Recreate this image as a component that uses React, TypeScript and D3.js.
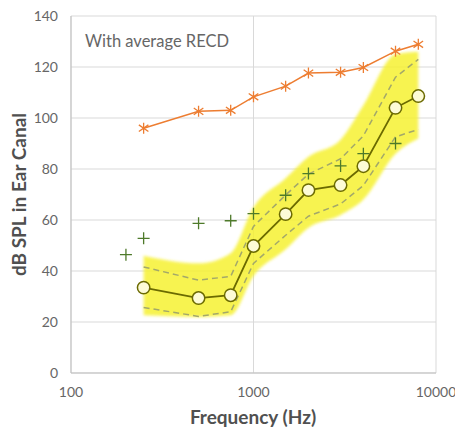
import React from "react";
import * as d3 from "d3";

const freqs = [250, 500, 750, 1000, 1500, 2000, 3000, 4000, 6000, 8000];
const withRecd = [96, 102.6, 103, 108.3, 112.5, 117.6, 117.9, 119.8, 126.2, 128.9];
const meanVals = [33.5, 29.4, 30.5, 49.8, 62.3, 71.7, 73.7, 81.1, 104, 108.6];
const upperDashed = [41.6, 36.4, 37.9, 57.5, 69.8, 78, 84, 93, 116, 123];
const lowerDashed = [25.7, 22.2, 24, 43, 54, 61.5, 66.3, 73.5, 92.6, 95.5];
const bandUpper = [46, 43, 47, 65, 76.4, 84.8, 91.5, 105, 125, 126];
const bandLower = [22.6, 22, 22.6, 38, 48.5, 57, 62, 68, 86, 92];
const plusFreqs = [200, 250, 500, 750, 1000, 1500, 2000, 3000, 4000, 6000];
const plusVals = [46.4, 52.8, 58.7, 59.7, 62.5, 69.7, 78.2, 81.2, 86, 90];
const yTicks = [0, 20, 40, 60, 80, 100, 120, 140];
const xTicks = [100, 1000, 10000];

export default function App() {
  const W = 455, H = 429;
  const left = 71, right = 436, top = 16, bottom = 373;
  const x = d3.scaleLog().domain([100, 10000]).range([left, right]);
  const y = d3.scaleLinear().domain([0, 140]).range([bottom, top]);

  const line = d3.line<[number, number]>().x(d => x(d[0])).y(d => y(d[1]));
  const area = d3
    .area<number>()
    .x((_, i) => x(freqs[i]))
    .y0((_, i) => y(bandLower[i]))
    .y1((_, i) => y(bandUpper[i]))
    .curve(d3.curveMonotoneX);

  const font = "Lato, 'Open Sans', sans-serif";
  const grey = "#666666";
  const olive = "#6b6a00";

  const star = (r: number) =>
    `M0,${-r}L0,${r}M${-r * 0.87},${-r * 0.6}L${r * 0.87},${r * 0.6}M${-r * 0.87},${r * 0.6}L${r * 0.87},${-r * 0.6}`;

  return (
    <svg width={W} height={H} style={{ position: "absolute", left: 0, top: 0, background: "#fff" }}>
      <defs>
        <filter id="blur" x="-10%" y="-10%" width="120%" height="120%">
          <feGaussianBlur stdDeviation="1.8" />
        </filter>
      </defs>
      {yTicks.map(t => (
        <line key={"gy" + t} x1={left} x2={right} y1={y(t)} y2={y(t)} stroke="#d9d9d9" strokeWidth={1} />
      ))}
      {xTicks.map(t => (
        <line key={"gx" + t} x1={x(t)} x2={x(t)} y1={top} y2={bottom} stroke="#d9d9d9" strokeWidth={1} />
      ))}
      <line x1={left} x2={left} y1={top} y2={bottom} stroke="#bfbfbf" />
      <line x1={left} x2={right} y1={bottom} y2={bottom} stroke="#bfbfbf" />

      <path d={area(freqs) || ""} fill="#f6f132" opacity={0.85} filter="url(#blur)" />

      <path d={line(freqs.map((f, i) => [f, upperDashed[i]])) || ""} fill="none" stroke="#a3a86a" strokeWidth={1.5} strokeDasharray="6,4" />
      <path d={line(freqs.map((f, i) => [f, lowerDashed[i]])) || ""} fill="none" stroke="#a3a86a" strokeWidth={1.5} strokeDasharray="6,4" />

      {plusFreqs.map((f, i) => (
        <path
          key={"p" + i}
          transform={`translate(${x(f)},${y(plusVals[i])})`}
          d="M-6,0L6,0M0,-6L0,6"
          stroke="#4e7a2a"
          strokeWidth={1.3}
          fill="none"
        />
      ))}

      <path d={line(freqs.map((f, i) => [f, meanVals[i]])) || ""} fill="none" stroke={olive} strokeWidth={1.8} />
      {freqs.map((f, i) => (
        <circle key={"c" + i} cx={x(f)} cy={y(meanVals[i])} r={6.2} fill="#fdfbd6" stroke={olive} strokeWidth={1.5} />
      ))}

      <path d={line(freqs.map((f, i) => [f, withRecd[i]])) || ""} fill="none" stroke="#ed7d31" strokeWidth={1.5} />
      {freqs.map((f, i) => (
        <path key={"s" + i} transform={`translate(${x(f)},${y(withRecd[i])})`} d={star(5.5)} stroke="#ed7d31" strokeWidth={1.3} fill="none" />
      ))}

      {yTicks.map(t => (
        <text key={"ty" + t} x={58} y={y(t) + 5} textAnchor="end" fontFamily={font} fontSize={14} fill={grey}>
          {t}
        </text>
      ))}
      {xTicks.map(t => (
        <text key={"tx" + t} x={x(t)} y={397} textAnchor="middle" fontFamily={font} fontSize={14} fill={grey}>
          {t}
        </text>
      ))}

      <text x={253} y={424} textAnchor="middle" fontFamily={font} fontSize={19} fontWeight="bold" fill="#505050">
        Frequency (Hz)
      </text>
      <text
        transform={`translate(26,${(top + bottom) / 2}) rotate(-90)`}
        textAnchor="middle"
        fontFamily={font}
        fontSize={19}
        fontWeight="bold"
        fill="#505050"
      >
        dB SPL in Ear Canal
      </text>
      <text x={85} y={47} fontFamily={font} fontSize={16.5} fill={grey}>
        With average RECD
      </text>
    </svg>
  );
}
